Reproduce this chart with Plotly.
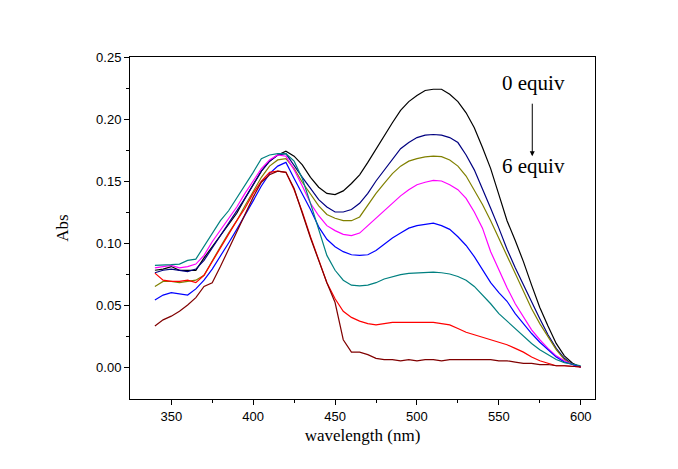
import plotly.graph_objects as go

wavelength = list(range(340, 605, 5))

eq0_black = [0.078, 0.079, 0.081, 0.078, 0.078, 0.078, 0.088, 0.097, 0.106, 0.114,
             0.124, 0.136, 0.147, 0.158, 0.166, 0.171, 0.174, 0.170, 0.163, 0.153,
             0.145, 0.140, 0.139, 0.142, 0.148, 0.155, 0.165, 0.176, 0.186, 0.197,
             0.207, 0.214, 0.219, 0.223, 0.224, 0.224, 0.220, 0.214, 0.205, 0.193,
             0.177, 0.160, 0.139, 0.118, 0.102, 0.085, 0.066, 0.048, 0.033, 0.019,
             0.009, 0.003, 0.000]
eq1_navy = [0.076, 0.078, 0.079, 0.078, 0.077, 0.079, 0.086, 0.096, 0.106, 0.116,
            0.125, 0.136, 0.147, 0.158, 0.166, 0.171, 0.172, 0.162, 0.153, 0.144,
            0.135, 0.129, 0.125, 0.125, 0.127, 0.132, 0.140, 0.150, 0.159, 0.168,
            0.176, 0.181, 0.185, 0.187, 0.1875, 0.187, 0.185, 0.181, 0.171, 0.159,
            0.144, 0.128, 0.112, 0.095, 0.080, 0.066, 0.052, 0.039, 0.026, 0.015,
            0.007, 0.002, 0.000]
eq2_olive = [0.065, 0.069, 0.069, 0.068, 0.069, 0.070, 0.074, 0.086, 0.097, 0.108,
             0.118, 0.130, 0.141, 0.153, 0.162, 0.167, 0.168, 0.160, 0.149, 0.139,
             0.130, 0.123, 0.120, 0.118, 0.118, 0.121, 0.131, 0.140, 0.148, 0.156,
             0.162, 0.166, 0.168, 0.1695, 0.170, 0.1697, 0.167, 0.162, 0.154, 0.143,
             0.131, 0.118, 0.104, 0.089, 0.075, 0.061, 0.047, 0.035, 0.024, 0.014,
             0.006, 0.002, 0.000]
eq3_magenta = [0.080, 0.081, 0.082, 0.080, 0.081, 0.083, 0.090, 0.101, 0.110, 0.119,
               0.129, 0.140, 0.150, 0.160, 0.167, 0.171, 0.170, 0.159, 0.146, 0.132,
               0.122, 0.114, 0.110, 0.107, 0.106, 0.108, 0.114, 0.120, 0.126, 0.132,
               0.138, 0.143, 0.147, 0.149, 0.1505, 0.150, 0.147, 0.143, 0.136, 0.125,
               0.112, 0.093, 0.078, 0.064, 0.051, 0.040, 0.030, 0.022, 0.015, 0.009,
               0.005, 0.002, 0.000]
eq4_blue = [0.054, 0.058, 0.060, 0.059, 0.058, 0.063, 0.070, 0.079, 0.089, 0.100,
            0.111, 0.122, 0.134, 0.146, 0.156, 0.162, 0.165, 0.152, 0.140, 0.127,
            0.113, 0.103, 0.097, 0.093, 0.0905, 0.090, 0.0905, 0.094, 0.099, 0.104,
            0.108, 0.112, 0.114, 0.115, 0.116, 0.114, 0.111, 0.105, 0.098, 0.089,
            0.078, 0.068, 0.060, 0.053, 0.043, 0.035, 0.027, 0.020, 0.014, 0.008,
            0.004, 0.002, 0.000]
eq5_teal = [0.082, 0.082, 0.0825, 0.083, 0.086, 0.087, 0.097, 0.108, 0.118, 0.126,
            0.136, 0.146, 0.157, 0.168, 0.171, 0.172, 0.172, 0.166, 0.152, 0.132,
            0.110, 0.090, 0.078, 0.070, 0.066, 0.0655, 0.066, 0.068, 0.071, 0.073,
            0.0745, 0.0755, 0.076, 0.0765, 0.0765, 0.076, 0.075, 0.073, 0.070, 0.065,
            0.058, 0.051, 0.043, 0.037, 0.031, 0.025, 0.019, 0.014, 0.010, 0.006,
            0.0035, 0.002, 0.001]
eq6_red = [0.0757, 0.070, 0.069, 0.069, 0.070, 0.068, 0.074, 0.085, 0.097, 0.108,
           0.118, 0.128, 0.140, 0.150, 0.157, 0.158, 0.157, 0.143, 0.125, 0.105,
           0.086, 0.068, 0.055, 0.045, 0.040, 0.037, 0.035, 0.034, 0.035, 0.036,
           0.036, 0.036, 0.036, 0.036, 0.036, 0.035, 0.034, 0.031, 0.028, 0.026,
           0.024, 0.022, 0.020, 0.018, 0.015, 0.012, 0.008, 0.005, 0.003, 0.001,
           0.001, 0.0005, 0.000]
eq7_maroon = [0.033, 0.038, 0.041, 0.045, 0.050, 0.056, 0.065, 0.068, 0.081, 0.095,
              0.108, 0.122, 0.137, 0.149, 0.155, 0.158, 0.157, 0.144, 0.124, 0.104,
              0.086, 0.068, 0.052, 0.022, 0.012, 0.012, 0.010, 0.007, 0.006, 0.006,
              0.005, 0.006, 0.005, 0.006, 0.006, 0.005, 0.006, 0.006, 0.006, 0.006,
              0.006, 0.006, 0.005, 0.005, 0.004, 0.003, 0.003, 0.002, 0.002, 0.001,
              0.001, 0.0005, 0.000]

series = [
    ("0 equiv", eq0_black, "#000000"),
    ("1 equiv", eq1_navy, "#000080"),
    ("2 equiv", eq2_olive, "#808000"),
    ("3 equiv", eq3_magenta, "#ff00ff"),
    ("4 equiv", eq4_blue, "#0000ff"),
    ("5 equiv", eq5_teal, "#008080"),
    ("5.5 equiv", eq6_red, "#ff0000"),
    ("6 equiv", eq7_maroon, "#800000"),
]

fig = go.Figure()
for name, vals, color in series:
    fig.add_trace(go.Scatter(x=wavelength, y=vals, mode="lines", name=name,
                             line=dict(color=color, width=1.2)))

serif = "Liberation Serif, Times New Roman, serif"
sans = "Liberation Sans, Arial, sans-serif"

fig.update_layout(
    width=678, height=469,
    margin=dict(l=122, r=91, t=49, b=78),
    paper_bgcolor="white", plot_bgcolor="white",
    showlegend=False,
    font=dict(family=sans, size=13, color="black"),
)
fig.update_xaxes(
    range=[324.8, 608.7], tickmode="array", tickvals=[350, 400, 450, 500, 550, 600],
    ticks="outside", ticklen=5, tickwidth=1, tickcolor="black",
    minor=dict(tickvals=[375, 425, 475, 525, 575], ticks="outside", ticklen=3,
               tickcolor="black", showgrid=False),
    showline=True, linecolor="black", linewidth=1, mirror=True, showgrid=False, zeroline=False,
    tickfont=dict(family=sans, size=13),
    title=dict(text="wavelength (nm)", font=dict(family=serif, size=17), standoff=6),
)
fig.update_yaxes(
    range=[-0.0258, 0.25], tickmode="array", tickvals=[0.0, 0.05, 0.10, 0.15, 0.20, 0.25],
    ticktext=["0.00", "0.05", "0.10", "0.15", "0.20", "0.25"],
    ticks="outside", ticklen=5, tickwidth=1, tickcolor="black",
    minor=dict(tickvals=[0.025, 0.075, 0.125, 0.175, 0.225], ticks="outside", ticklen=3,
               tickcolor="black", showgrid=False),
    showline=True, linecolor="black", linewidth=1, mirror=True, showgrid=False, zeroline=False,
    tickfont=dict(family=sans, size=13),
    title=dict(text="Abs", font=dict(family=serif, size=17), standoff=23),
)

fig.add_annotation(x=571, y=0.229, xref="x", yref="y", text="0 equiv", showarrow=False,
                   font=dict(family=serif, size=21, color="black"))
fig.add_annotation(x=571, y=0.162, xref="x", yref="y", text="6 equiv", showarrow=False,
                   font=dict(family=serif, size=21, color="black"))
fig.add_annotation(x=570.4, y=0.170, xref="x", yref="y", ax=0, ay=-54, text="",
                   showarrow=True, arrowhead=2, arrowsize=1, arrowwidth=1, arrowcolor="black")

fig.write_html("out.html")
